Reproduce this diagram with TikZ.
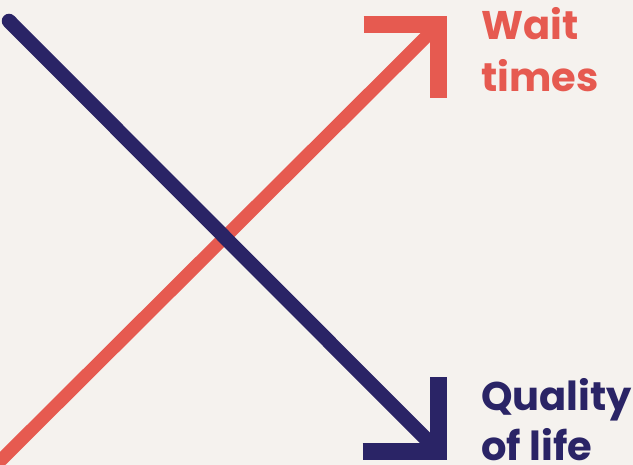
\documentclass[tikz,border=0pt]{standalone}
\usepackage{fontspec}
\setmainfont{Poppins}
\usetikzlibrary{calc}
\definecolor{bgc}{HTML}{F5F2EE}
\definecolor{redc}{HTML}{E65A50}
\definecolor{bluec}{HTML}{2A2466}
\tikzset{
  redline/.style={draw=redc, line width=13pt},
  redhead/.style={draw=redc, line width=16.5pt, line join=miter},
  blueline/.style={draw=bluec, line width=14.5pt, line cap=round},
  bluehead/.style={draw=bluec, line width=16.5pt, line join=miter},
  lbl/.style={anchor=base west, inner sep=0pt, font=\fontsize{40}{48}\selectfont\bfseries},
}
\begin{document}
\begin{tikzpicture}[x=1pt,y=-1pt]
\fill[bgc] (0,0) rectangle (633,465);
\useasboundingbox (0,0) rectangle (633,465);
\clip (0,0) rectangle (633,465);
% red rising arrow
\coordinate (rs) at (-12,473);
\coordinate (rt) at (438.5,24.5);
\draw[redline] (rs) -- (rt);
\draw[redhead] ($(rt)+(-75,0)$) -- (rt) -- ($(rt)+(0,74)$);
% blue falling arrow
\coordinate (bs) at (9,21);
\coordinate (bt) at (438.5,451.5);
\draw[blueline] (bs) -- ($(bt)+(-4,-4)$);
\draw[bluehead] ($(bt)+(-76,0)$) -- (bt) -- ($(bt)+(0,-74)$);
% labels
\node[lbl, text=redc] (w1) at (481,40) {Wait};
\node[lbl, text=redc] (w2) at (481,92) {times};
\node[lbl, text=bluec] (q1) at (481,411) {Quality};
\node[lbl, text=bluec, text depth=0pt] (q2) at (481,461) {of life};
\end{tikzpicture}
\end{document}
